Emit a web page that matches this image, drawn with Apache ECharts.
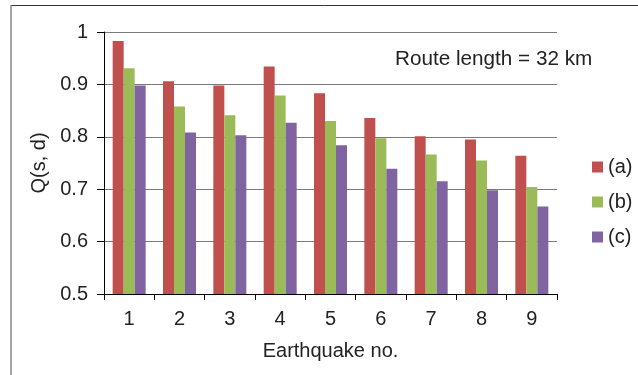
<!DOCTYPE html>
<html>
<head>
<meta charset="utf-8">
<script src="https://cdn.jsdelivr.net/npm/echarts@6/dist/echarts.min.js"></script>
<style>
html,body{margin:0;padding:0;background:#fff;}
#chart{width:638px;height:375px;}
</style>
</head>
<body>
<div id="chart"></div>
<script>
const categories = ['1','2','3','4','5','6','7','8','9'];
const seriesA = [0.983, 0.906, 0.898, 0.934, 0.883, 0.836, 0.801, 0.795, 0.764];
const seriesB = [0.931, 0.858, 0.841, 0.879, 0.830, 0.797, 0.766, 0.755, 0.704];
const seriesC = [0.898, 0.808, 0.803, 0.827, 0.784, 0.739, 0.715, 0.698, 0.667];
const seriesNames = ['(a)', '(b)', '(c)'];
const colors = ['#C0504D', '#9BBB59', '#8064A2'];
const FONT = 'Liberation Sans, Arial, sans-serif';
const TXT = '#222';

const chart = echarts.init(document.getElementById('chart'), null, {renderer: 'canvas'});
const mk = (name, data, color) => ({
  name, type: 'bar', data, barWidth: 11, barGap: '0%',
  itemStyle: {color}, animation: false
});
chart.setOption({
  animation: false,
  textStyle: {fontFamily: FONT},
  grid: {left: 104, right: 81, top: 32, bottom: 81},
  legend: {
    orient: 'vertical', left: 587, top: 152,
    itemWidth: 11, itemHeight: 11, itemGap: 15,
    icon: 'rect',
    textStyle: {fontSize: 20, color: TXT, fontFamily: FONT, lineHeight: 20},
    data: seriesNames
  },
  xAxis: {
    type: 'category', data: categories,
    name: 'Earthquake no.', nameLocation: 'middle', nameGap: 47,
    nameTextStyle: {fontSize: 20, color: TXT, fontFamily: FONT},
    axisLine: {lineStyle: {color: '#000', width: 1}},
    axisTick: {show: true, alignWithLabel: false, length: 6, lineStyle: {color: '#000'}},
    axisLabel: {fontSize: 20, color: TXT, margin: 15, fontFamily: FONT}
  },
  yAxis: {
    type: 'value', min: 0.5, max: 1, interval: 0.1,
    name: 'Q(s, d)', nameLocation: 'middle', nameGap: 52, nameRotate: 90,
    nameTextStyle: {fontSize: 20, color: TXT, fontFamily: FONT},
    axisLine: {show: true, lineStyle: {color: '#000', width: 1}},
    axisTick: {show: true, length: 7, lineStyle: {color: '#000'}},
    axisLabel: {fontSize: 20, color: TXT, margin: 16, fontFamily: FONT,
      formatter: v => String(+v.toFixed(1))},
    splitLine: {show: true, lineStyle: {color: '#7a7a7a', width: 1}}
  },
  graphic: [
    {type: 'line', shape: {x1: 11, y1: 5.5, x2: 638, y2: 5.5}, style: {stroke: '#333', lineWidth: 1}},
    {type: 'line', shape: {x1: 11, y1: 5, x2: 11, y2: 375}, style: {stroke: '#888', lineWidth: 1.5}},
    {type: 'text', left: 395, top: 49, style: {text: 'Route length = 32 km', fontSize: 20.7, fill: TXT, fontFamily: FONT}}
  ],
  series: [
    mk(seriesNames[0], seriesA, colors[0]),
    mk(seriesNames[1], seriesB, colors[1]),
    mk(seriesNames[2], seriesC, colors[2])
  ]
});
</script>
</body>
</html>
